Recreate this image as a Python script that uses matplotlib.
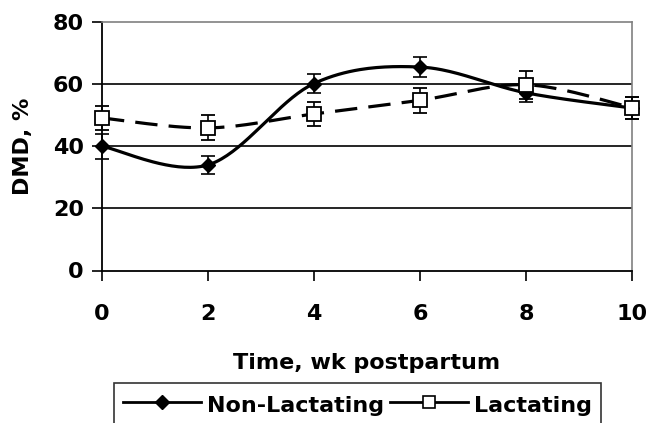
import numpy as np
import matplotlib.pyplot as plt
from matplotlib.lines import Line2D

plt.rcParams['font.family'] = ['DejaVu Sans']
plt.rcParams['font.weight'] = 'bold'

weeks = [0, 2, 4, 6, 8, 10]
non_lact = [40.0, 34.0, 60.2, 65.5, 57.2, 52.3]
non_lact_err = [4.0, 3.0, 3.0, 3.2, 3.0, 3.5]
lact = [49.1, 45.9, 50.4, 54.8, 59.8, 52.4]
lact_err = [4.0, 4.0, 4.0, 4.0, 4.5, 3.5]


def smooth(x, y, n=40):
    # Excel-style smoothed line (bezier through the points)
    x = np.asarray(x, float)
    y = np.asarray(y, float)
    px = np.concatenate([[x[0]], x, [x[-1]]])
    py = np.concatenate([[y[0]], y, [y[-1]]])
    xs, ys = [], []
    t = np.linspace(0, 1, n)
    for i in range(1, len(px) - 2):
        p0, p1, p2, p3 = (np.array([px[j], py[j]]) for j in (i - 1, i, i + 1, i + 2))
        c1 = p1 + (p2 - p0) / 6
        c2 = p2 - (p3 - p1) / 6
        b = ((1 - t) ** 3)[:, None] * p1 + (3 * (1 - t) ** 2 * t)[:, None] * c1 \
            + (3 * (1 - t) * t ** 2)[:, None] * c2 + (t ** 3)[:, None] * p2
        xs.extend(b[:, 0])
        ys.extend(b[:, 1])
    return np.array(xs), np.array(ys)


fig = plt.figure(figsize=(6.49, 4.23), dpi=100)
ax = fig.add_axes([102 / 649, 1 - 270.5 / 423, 530 / 649, 248.5 / 423])

for yv in [20, 40, 60]:
    ax.axhline(yv, color='black', lw=1.2, zorder=1)

sx, sy = smooth(weeks, non_lact)
ax.plot(sx, sy, color='black', lw=2.3, zorder=3)
sx, sy = smooth(weeks, lact)
ax.plot(sx, sy, color='black', lw=2.3, ls=(0, (7, 3.5)), zorder=3)

ax.errorbar(weeks, non_lact, yerr=non_lact_err, fmt='D', color='black', ms=7.5,
            mfc='black', mec='black', ecolor='black', elinewidth=1.2, capsize=5,
            capthick=1.2, zorder=4, clip_on=False)
ax.errorbar(weeks, lact, yerr=lact_err, fmt='s', color='black', ms=10,
            mfc='white', mec='black', mew=1.3, ecolor='black', elinewidth=1.2,
            capsize=5, capthick=1.2, zorder=5, clip_on=False)

ax.set_xlim(0, 10)
ax.set_ylim(0, 80)
ax.set_xticks(weeks)
ax.set_yticks([0, 20, 40, 60, 80])
ax.tick_params(direction='out', length=7, width=1.2, labelsize=16, pad=6)
ax.tick_params(axis='x', pad=17)
for lab in ax.get_xticklabels() + ax.get_yticklabels():
    lab.set_fontweight('bold')

ax.spines['left'].set_linewidth(1.3)
ax.spines['bottom'].set_linewidth(1.3)
ax.spines['top'].set_color('#808080')
ax.spines['right'].set_color('#808080')
ax.spines['top'].set_linewidth(1.2)
ax.spines['right'].set_linewidth(1.2)

ax.set_ylabel('DMD, %', fontsize=16, fontweight='bold', labelpad=14)
ax.set_xlabel('Time, wk postpartum', fontsize=16, fontweight='bold', labelpad=21)

handles = [
    Line2D([], [], color='black', lw=2, marker='D', ms=7, mfc='black'),
    Line2D([], [], color='black', lw=2, marker='s', ms=8, mfc='white', mew=1.2),
]
leg = fig.legend(handles, ['Non-Lactating', 'Lactating'], loc='upper left',
                 bbox_to_anchor=(114 / 649, 1 - 383 / 423), ncol=2,
                 prop={'weight': 'bold', 'size': 16},
                 frameon=True, fancybox=False, edgecolor='black',
                 handlelength=3.5, handleheight=1.4, columnspacing=0.25,
                 handletextpad=0.3, borderaxespad=0, borderpad=0.4)
leg.get_frame().set_linewidth(1.2)

fig.savefig('out.png', dpi=100)
